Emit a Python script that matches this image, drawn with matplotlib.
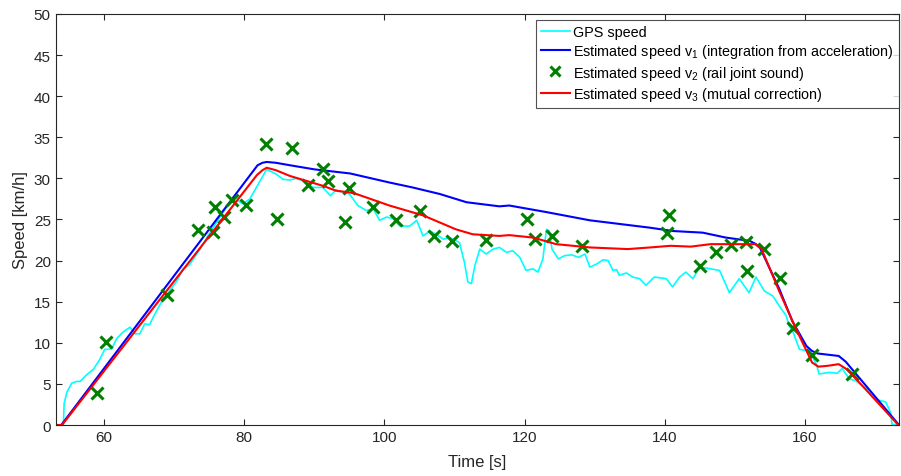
import numpy as np
import matplotlib.pyplot as plt

plt.rcParams['font.family'] = ['Liberation Sans', 'DejaVu Sans']
plt.rcParams['mathtext.fontset'] = 'custom'
plt.rcParams['mathtext.rm'] = 'Liberation Sans'
plt.rcParams['mathtext.it'] = 'Liberation Sans'

# GPS speed
gps_t = [53.1, 54.2, 54.3, 54.7, 55.4, 56.1, 56.6, 57.5, 58.5, 59.4, 60.1, 60.6, 61.1, 61.8, 62.7,
         63.7, 64.4, 65.1, 65.8, 66.5, 67.0, 67.9, 68.4, 70.3, 71.3, 72.2, 73.7, 75.1, 77.9, 79.1,
         79.8, 80.8, 83.2, 84.6, 85.5, 86.5, 87.4, 88.4, 89.8, 91.2, 92.3, 93.1, 94.1, 95.0, 96.2,
         97.4, 98.4, 99.3, 100.3, 101.2, 102.2, 103.6, 104.6, 105.5, 106.5, 107.4, 108.4, 109.3, 110.7,
         111.4, 111.9, 112.4, 112.9, 113.6, 114.5, 115.5, 116.4, 117.4, 118.3, 119.3, 120.2, 121.2,
         121.9, 122.6, 123.1, 123.5, 123.9, 124.8, 125.7, 126.7, 127.7, 128.6, 129.3, 130.3, 131.2,
         131.9, 132.6, 133.1, 133.5, 134.5, 135.4, 136.4, 137.3, 138.5, 140.2, 141.1, 142.1, 143.0,
         144.0, 144.9, 145.9, 147.8, 149.2, 150.6, 152.0, 153.0, 154.2, 155.4, 156.3, 157.3, 157.7,
         158.2, 159.2, 160.6, 161.6, 162.0, 163.4, 164.6, 165.3, 166.3, 167.2, 168.7, 169.6, 170.6,
         171.5, 172.2, 172.4, 173.4]
gps_v = [0, 0, 2.6, 4.0, 5.1, 5.3, 5.3, 6.1, 6.8, 8.0, 9.2, 9.2, 9.3, 10.5, 11.3,
         11.9, 11.1, 11.1, 12.3, 12.2, 13.1, 14.5, 15.3, 17.4, 19.0, 19.5, 21.4, 23.4, 27.1, 27.3,
         26.9, 27.5, 31.1, 30.5, 29.9, 29.8, 30.0, 29.7, 28.9, 28.9, 27.9, 28.6, 28.3, 28.1, 26.7,
         26.1, 26.3, 24.9, 25.3, 25.1, 24.2, 24.2, 24.9, 23.0, 23.6, 23.2, 22.6, 22.8, 22.2,
         19.8, 17.4, 17.2, 19.4, 21.4, 20.8, 21.4, 21.6, 21.0, 21.2, 20.4, 18.8, 19.0,
         18.6, 20.2, 23.8, 23.6, 21.4, 20.2, 20.6, 20.7, 20.4, 20.8, 19.2, 19.6, 20.1,
         20.0, 18.8, 18.9, 18.2, 18.5, 18.0, 17.8, 17.0, 18.0, 17.8, 16.8, 18.0, 18.6,
         17.8, 19.1, 19.1, 18.8, 16.1, 17.8, 16.1, 18.0, 16.3, 15.7, 14.5, 13.3, 12.1,
         11.5, 9.2, 9.0, 7.4, 6.2, 6.4, 6.3, 6.9, 5.6, 5.4, 4.4, 3.4, 3.0,
         2.8, 1.5, 0.1, 0]

# v1: integration from acceleration
v1_t = [53.1, 53.9, 81.9, 82.6, 83.2, 84.5, 86.5, 90.0, 95.1, 100.7, 104.0, 107.9, 111.7, 116.4,
        117.8, 123.1, 129.3, 137.9, 141.1, 145.4, 148.7, 152.1, 153.0, 153.6, 156.3, 158.2, 160.2,
        161.0, 161.8, 164.8, 165.8, 173.4]
v1_v = [0, 0, 31.6, 31.9, 32.0, 31.9, 31.6, 31.1, 30.6, 29.5, 28.9, 28.1, 27.1, 26.6,
        26.7, 25.9, 24.9, 24.0, 23.6, 23.4, 22.8, 22.4, 22.0, 21.5, 16.6, 12.6, 9.6,
        9.0, 8.7, 8.4, 7.7, 0]

# v2: rail joint sound
v2_t = [59.0, 60.3, 69.0, 73.4, 75.5, 75.8, 77.1, 78.2, 80.2, 83.1, 84.6, 86.8, 89.1, 91.3,
        92.0, 94.3, 95.0, 98.3, 101.7, 105.1, 107.0, 109.7, 114.5, 120.4, 121.5, 123.9, 128.2,
        140.6, 140.3, 145.0, 147.3, 149.4, 151.6, 151.7, 154.1, 156.4, 158.3, 161.0, 166.7]
v2_v = [3.9, 10.1, 15.8, 23.7, 23.5, 26.5, 25.3, 27.4, 26.8, 34.2, 25.1, 33.7, 29.2, 31.1,
        29.7, 24.7, 28.8, 26.5, 24.9, 26.0, 23.0, 22.4, 22.5, 25.1, 22.6, 23.0, 21.8,
        25.5, 23.4, 19.3, 21.0, 21.9, 22.3, 18.7, 21.4, 17.9, 11.8, 8.5, 6.2]

# v3: mutual correction
v3_t = [53.1, 54.0, 81.8, 82.6, 83.2, 84.5, 86.5, 91.2, 93.1, 95.0, 96.0, 100.7, 105.5, 110.2,
        112.6, 116.4, 117.8, 121.2, 124.5, 129.3, 134.7, 137.9, 140.8, 143.7, 146.5, 152.9, 153.8,
        156.3, 158.7, 161.0, 161.9, 163.2, 164.8, 166.1, 173.3, 173.4]
v3_v = [0, 0, 30.4, 31.0, 31.3, 31.0, 30.3, 29.1, 28.5, 28.3, 28.1, 26.7, 25.5, 23.8,
        23.2, 23.0, 23.1, 22.8, 22.0, 21.6, 21.4, 21.6, 21.8, 21.7, 22.0, 22.0, 21.4,
        16.3, 11.7, 7.6, 7.1, 7.2, 7.4, 6.7, 0, 0]

fig = plt.figure(figsize=(9.01, 4.77), dpi=100)
ax = fig.add_axes([0.0618, 0.1069, 0.936, 0.8617])

ax.plot(gps_t, gps_v, color='#00FFFF', lw=1.2, label='GPS speed')
ax.plot(v1_t, v1_v, color='#0000FF', lw=1.5,
        label='Estimated speed v$_1$ (integration from acceleration)')
ax.plot(v2_t, v2_v, ls='none', marker='x', ms=8.5, mew=2.2, color='#007F00',
        label='Estimated speed v$_2$ (rail joint sound)')
ax.plot(v3_t, v3_v, color='#FF0000', lw=1.5,
        label='Estimated speed v$_3$ (mutual correction)')

ax.set_xlim(53.1, 173.4)
ax.set_ylim(0, 50)
ax.set_xticks(np.arange(60, 161, 20))
ax.set_yticks(np.arange(0, 51, 5))
ax.tick_params(direction='in', top=True, right=True, length=4, labelsize=11,
               colors='#262626', width=0.8)
for s in ax.spines.values():
    s.set_color('#262626')
    s.set_linewidth(0.8)
ax.set_xlabel('Time [s]', fontsize=12, color='#262626', labelpad=7)
ax.set_ylabel('Speed [km/h]', fontsize=12, color='#262626', labelpad=4)

leg = ax.legend(loc='upper right', bbox_to_anchor=(1.0, 0.985), fontsize=10.4,
                frameon=True, fancybox=False, borderaxespad=0.0, handlelength=2.0,
                handletextpad=0.25, labelspacing=0.22, borderpad=0.35, markerscale=0.8)
leg.get_frame().set_edgecolor('#262626')
leg.get_frame().set_linewidth(0.8)

fig.savefig('out.png', dpi=100)
